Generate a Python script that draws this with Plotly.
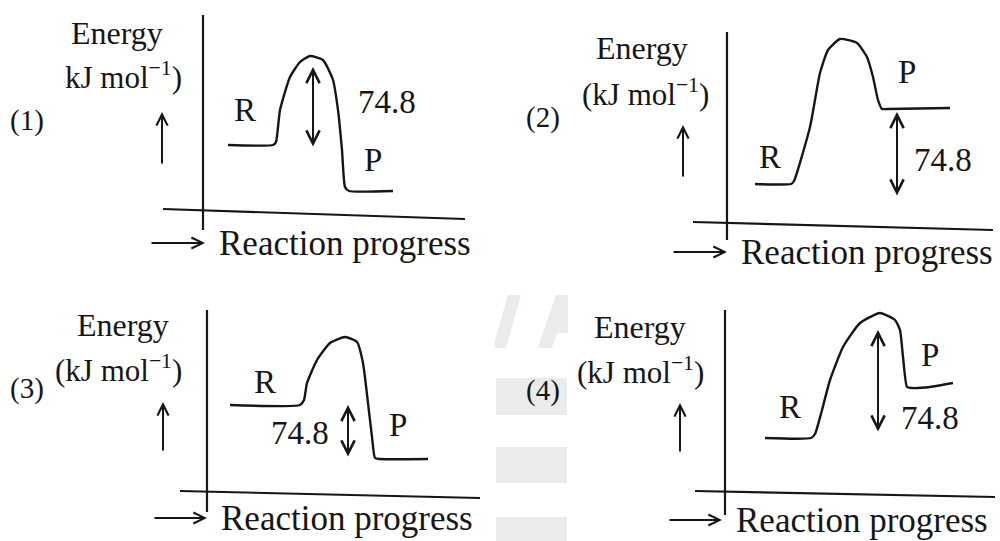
import plotly.graph_objects as go

# ---- data (local units: axes crossing = 0,0, energy upwards) ----
labels = ["(1)", "(2)", "(3)", "(4)"]
energy_units = ["kJ mol<sup>−1</sup>)", "(kJ mol<sup>−1</sup>)", "(kJ mol<sup>−1</sup>)", "(kJ mol<sup>−1</sup>)"]
delta_h = ["74.8", "74.8", "74.8", "74.8"]

# energy profile of each option (R plateau, hump, P plateau)
curve1_x = [25, 70, 73, 77, 87, 97, 107, 120, 130, 135, 139, 142, 146, 190]
curve1_y = [65, 65, 68, 100, 133, 148, 154, 150, 130, 100, 60, 23, 19, 19]
curve2_x = [28, 64, 67, 83, 93, 101, 113, 130, 140, 146, 151, 155, 160, 223]
curve2_y = [39, 39, 42, 96, 150, 173, 184, 180, 166, 146, 123, 114, 114, 115]
curve3_x = [23, 93, 97, 100, 110, 123, 138, 150, 156, 161, 165, 168, 173, 221]
curve3_y = [87, 87, 92, 109, 132, 149, 155, 150, 129, 89, 55, 34, 33, 33]
curve4_x = [40, 86, 90, 97, 105, 118, 135, 155, 170, 175, 178, 182, 187, 205, 228]
curve4_y = [54, 54, 58, 82, 112, 145, 169, 179, 172, 162, 135, 105, 104, 105, 109]
curves_x = [curve1_x, curve2_x, curve3_x, curve4_x]
curves_y = [curve1_y, curve2_y, curve3_y, curve4_y]

# drawn axes: horizontal (slightly tilted in the scan) and vertical
h_axis_x = [[-40, 262], [-34, 266], [-27, 273], [-30, 270]]
h_axis_y = [[1, -9], [1, -7], [1, -6], [1, -5]]
v_axis_y = [[195, -20], [191, -17], [182, -20], [182, -23]]

# double arrow marking 74.8: x, lower end, upper end
gap_x = [110, 170, 141, 153]
gap_lo = [62, 26, 34, 59]
gap_hi = [143, 111, 87, 162]

# ---- layout of the four panels ----
# pixel position of the axes crossing inside the 1000x541 page
origins = [(203, 210), (727, 223), (207, 492), (725, 492)]
doms_x = [[0, 0.5], [0.5, 1], [0, 0.5], [0.5, 1]]
doms_y = [[0.5, 1], [0.5, 1], [0, 0.5], [0, 0.5]]
tops = [0, 0, 270.5, 270.5]
lefts = [0, 500, 0, 500]

# label spots (local units)
num_pos = [(-176, 90), (-184, 106), (-180, 104), (-182, 102)]
energy_pos = [(-86, 177), (-85, 175), (-84, 167), (-85, 165)]
unit_pos = [(-80, 135), (-82, 131), (-89, 124), (-85, 122)]
r_pos = [(42, 100), (43, 66), (58, 110), (65, 85)]
p_pos = [(170, 50), (180, 151), (191, 67), (205, 137)]
dh_pos = [(184, 108), (216, 63), (93, 59), (205, 74)]
up_arrow = [(-41, 45, 98), (-44, 45, 98), (-44, 40, 90), (-45, 39, 89)]
rp_arrow = [(-53, 2, -33), (-55, 0, -29), (-54, 0, -26), (-57, -3, -28)]

ink = "#161616"
serif = "Times New Roman, Liberation Serif, DejaVu Serif, serif"

fig = go.Figure()
annotations = []
layout_axes = {}

for i in range(4):
    n = "" if i == 0 else str(i + 1)
    xa, ya = "x" + n, "y" + n
    ox, oy = origins[i]

    layout_axes["xaxis" + n] = dict(domain=doms_x[i], range=[lefts[i] - ox, lefts[i] + 500 - ox],
                                    visible=False, anchor=ya, fixedrange=True)
    layout_axes["yaxis" + n] = dict(domain=doms_y[i], range=[oy - tops[i] - 270.5, oy - tops[i]],
                                    visible=False, anchor=xa, fixedrange=True)

    # axes of the sketch
    fig.add_trace(go.Scatter(x=h_axis_x[i], y=h_axis_y[i], mode="lines", xaxis=xa, yaxis=ya,
                             line=dict(color=ink, width=2.2), hoverinfo="skip"))
    fig.add_trace(go.Scatter(x=[0, 0], y=v_axis_y[i], mode="lines", xaxis=xa, yaxis=ya,
                             line=dict(color=ink, width=2.2), hoverinfo="skip"))
    # energy profile
    fig.add_trace(go.Scatter(x=curves_x[i], y=curves_y[i], mode="lines", xaxis=xa, yaxis=ya,
                             line=dict(color=ink, width=2.4, shape="spline", smoothing=0.5),
                             hoverinfo="skip"))

    def txt(pos, s, size, anchor="center"):
        annotations.append(dict(x=pos[0], y=pos[1], xref=xa, yref=ya, text=s, showarrow=False,
                                xanchor=anchor, yanchor="middle",
                                font=dict(family=serif, size=size, color=ink)))

    txt(num_pos[i], labels[i], 29)
    txt(energy_pos[i], "Energy", 32)
    txt(unit_pos[i], energy_units[i], 31)
    txt(r_pos[i], "R", 33)
    txt(p_pos[i], "P", 33)
    txt(dh_pos[i], delta_h[i], 33)
    txt((rp_arrow[i][1] + 12, rp_arrow[i][2]), "Reaction progress", 35, "left")

    # ↑ next to the energy label
    ux, uy0, uy1 = up_arrow[i]
    annotations.append(dict(x=ux, y=uy1, ax=ux, ay=uy0, xref=xa, yref=ya, axref=xa, ayref=ya,
                            text="", showarrow=True, arrowhead=5, arrowsize=1.1, arrowwidth=2,
                            arrowcolor=ink))
    # → before "Reaction progress"
    rx0, rx1, ry = rp_arrow[i]
    annotations.append(dict(x=rx1, y=ry, ax=rx0, ay=ry, xref=xa, yref=ya, axref=xa, ayref=ya,
                            text="", showarrow=True, arrowhead=5, arrowsize=1.1, arrowwidth=2,
                            arrowcolor=ink))
    # double arrow for 74.8
    annotations.append(dict(x=gap_x[i], y=gap_hi[i], ax=gap_x[i], ay=gap_lo[i], xref=xa, yref=ya,
                            axref=xa, ayref=ya, text="", showarrow=True, arrowside="end+start",
                            arrowhead=5, startarrowhead=5, arrowsize=1.3, startarrowsize=1.3,
                            arrowwidth=2, arrowcolor=ink))

# faint watermark pieces between the lower panels (pixels)
wm_polys = [
    [(495, 348), (506, 348), (521, 295), (508, 295), (495, 340)],
    [(538, 348), (552, 348), (557, 333), (568, 333), (568, 295), (556, 295)],
    [(496, 378), (567, 378), (567, 415), (496, 415)],
    [(496, 447), (567, 447), (567, 483), (496, 483)],
    [(496, 517), (567, 517), (567, 541), (496, 541)],
]
shapes = []
for poly in wm_polys:
    path = "M " + " L ".join("{:.4f},{:.4f}".format(px / 1000, 1 - py / 541) for px, py in poly) + " Z"
    shapes.append(dict(type="path", xref="paper", yref="paper", path=path,
                       fillcolor="#eaebeb", line=dict(width=0), layer="below"))

fig.update_layout(
    width=1000, height=541,
    margin=dict(l=0, r=0, t=0, b=0),
    paper_bgcolor="white", plot_bgcolor="rgba(0,0,0,0)",
    showlegend=False,
    annotations=annotations,
    shapes=shapes,
    **layout_axes,
)

# drop the page's default body margin so the figure sits at the top-left corner
fig.write_html("out.html", config={"displayModeBar": False},
               post_script="document.body.style.margin='0';")
